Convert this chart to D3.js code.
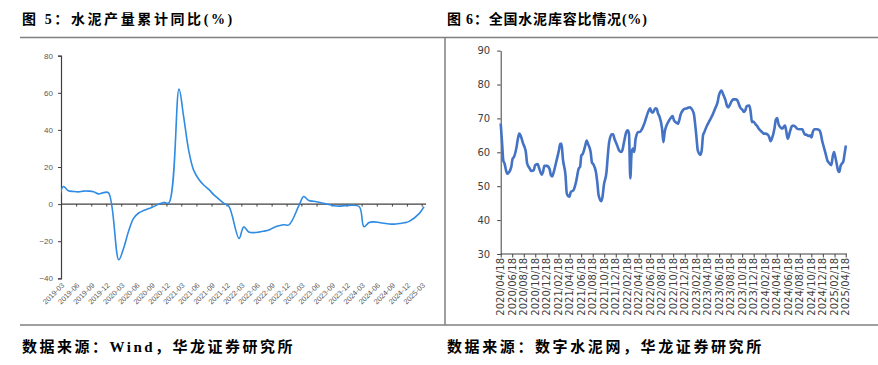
<!DOCTYPE html>
<html><head><meta charset="utf-8">
<script src="https://cdn.jsdelivr.net/npm/d3@7"></script>
<style>
html,body{margin:0;padding:0;background:#fff;}
svg{display:block;}
</style></head><body>
<svg id="c" width="878" height="365"></svg>
<script>
// ---------- DATA ----------
const title5 = "图 5：水泥产量累计同比(%)";
const title6 = "图 6：全国水泥库容比情况(%)";
const source5 = "数据来源：Wind，华龙证券研究所";
const source6 = "数据来源：数字水泥网，华龙证券研究所";

// Figure 5: cement output cumulative YoY (%), monthly (no January releases)
const outputMonths = ["2019-02","2019-03","2019-04","2019-05","2019-06","2019-07","2019-08","2019-09","2019-10","2019-11","2019-12",
  "2020-02","2020-03","2020-04","2020-05","2020-06","2020-07","2020-08","2020-09","2020-10","2020-11","2020-12",
  "2021-02","2021-03","2021-04","2021-05","2021-06","2021-07","2021-08","2021-09","2021-10","2021-11","2021-12",
  "2022-02","2022-03","2022-04","2022-05","2022-06","2022-07","2022-08","2022-09","2022-10","2022-11","2022-12",
  "2023-02","2023-03","2023-04","2023-05","2023-06","2023-07","2023-08","2023-09","2023-10","2023-11","2023-12",
  "2024-02","2024-03","2024-04","2024-05","2024-06","2024-07","2024-08","2024-09","2024-10","2024-11","2024-12",
  "2025-02","2025-03"];
const outputYoY = [-0.3,9.5,7.2,6.8,6.6,7.0,7.0,6.7,5.5,6.2,6.1,
  -30.0,-23.9,-14.5,-7.7,-4.8,-3.5,-2.4,-1.3,0.0,0.9,0.6,
  62.0,47.3,29.0,18.3,13.4,10.3,7.9,5.0,2.7,0.4,-1.2,
  -18.5,-12.3,-15.0,-15.4,-15.1,-14.6,-14.0,-12.6,-11.7,-11.1,-11.2,
  -0.6,4.1,1.9,1.5,1.0,0.4,-0.2,-0.9,-1.1,-0.9,-0.7,
  -1.3,-12.2,-9.9,-9.6,-9.9,-10.3,-10.7,-10.8,-10.5,-10.1,-9.3,
  -5.0,-1.4];
const outputTicks = ["2019-03","2019-06","2019-09","2019-12","2020-03","2020-06","2020-09","2020-12",
  "2021-03","2021-06","2021-09","2021-12","2022-03","2022-06","2022-09","2022-12",
  "2023-03","2023-06","2023-09","2023-12","2024-03","2024-06","2024-09","2024-12","2025-03"];
const outputYTicks = [80,60,40,20,0,-20,-40];

// Figure 6: national cement storage ratio (%), weekly; week offset from 2020/04/18
const storageStart = "2020/04/18";
const storageWeek = [0,1,2,3,4,5,6,8,9,10,12,13,14,15,17,18,19,20,22,23,25,26,28,29,31,32,33,35,37,38,39,40,42,44,45,46,47,49,50,52,53,55,56,57,59,60,61,62,64,65,66,68,69,70,72,73,74,76,77,78,80,81,82,84,85,86,88,89,91,92,93,95,96,97,98,99,100,101,102,104,105,107,108,109,110,112,113,114,115,117,118,119,120,122,123,124,125,127,129,130,131,133,134,135,136,138,139,141,143,144,146,147,148,149,151,152,153,154,156,158,160,162,164,165,167,168,170,171,172,173,175,176,178,179,180,181,183,184,185,186,188,189,190,191,193,194,195,197,198,199,200,202,203,204,205,207,208,209,210,212,213,214,215,216,217,219,220,221,223,224,226,228,229,230,231,233,234,235,236,237,239,241,242,243,244,246,247,248,250,251,252,253,254,255,256,257,258,259,260,261];
const storageRatio = [68.5,63.0,57.5,56.6,54.7,53.7,54.0,55.7,58.1,58.6,61.6,64.0,65.5,65.0,62.5,61.6,60.1,56.7,55.2,54.5,54.7,56.2,56.5,55.4,53.4,54.2,56.0,56.0,55.0,53.2,52.9,54.0,57.2,60.5,62.5,62.5,58.1,53.2,47.8,46.9,48.3,48.8,49.8,51.3,55.2,55.7,59.1,59.5,62.1,63.5,62.5,60.1,57.0,56.5,54.2,51.3,47.4,45.6,46.9,50.3,54.2,59.1,63.0,65.3,65.3,64.0,62.1,61.0,60.1,60.6,62.5,66.0,66.5,65.5,52.3,60.0,61.1,60.1,64.0,66.0,66.0,67.0,67.9,68.9,70.2,72.4,73.0,71.9,71.7,73.0,72.8,71.4,70.6,67.0,63.0,66.0,67.5,69.2,70.4,70.7,69.4,68.7,68.4,69.4,71.1,72.5,72.8,73.0,73.3,73.0,71.4,68.4,64.5,60.6,59.3,60.6,65.0,66.0,67.9,69.4,70.9,72.8,74.8,76.8,78.2,77.3,75.3,73.8,73.2,73.8,75.3,75.6,75.6,75.3,74.3,73.3,72.4,71.9,72.4,73.6,73.8,71.9,68.9,69.1,68.1,67.7,67.0,66.2,65.8,65.5,65.5,65.2,64.5,63.3,64.0,67.0,69.6,70.1,68.4,67.2,67.0,67.5,67.9,66.0,64.0,66.5,67.6,67.9,67.5,67.0,66.8,66.8,66.0,65.2,65.2,64.8,65.0,64.4,66.0,66.8,66.8,66.5,65.5,63.5,62.0,59.1,57.6,57.0,56.2,58.6,60.1,58.6,56.7,54.7,54.2,56.0,56.7,57.2,59.5,62.0];
const storageTicks = ["2020/04/18","2020/06/18","2020/08/18","2020/10/18","2020/12/18","2021/02/18","2021/04/18","2021/06/18","2021/08/18","2021/10/18","2021/12/18",
  "2022/02/18","2022/04/18","2022/06/18","2022/08/18","2022/10/18","2022/12/18","2023/02/18","2023/04/18","2023/06/18","2023/08/18","2023/10/18","2023/12/18",
  "2024/02/18","2024/04/18","2024/06/18","2024/08/18","2024/10/18","2024/12/18","2025/02/18","2025/04/18"];
const storageYTicks = [30,40,50,60,70,80,90];

// ---------- DRAW ----------
const svg = d3.select("#c");
svg.append("rect").attr("width",878).attr("height",365).attr("fill","#fff");

const CJK = "'Liberation Serif','Noto Sans CJK SC',serif";
const frame = "#7f7f7f";

// titles
svg.append("text").attr("x",22).attr("y",24).text(title5)
  .attr("font-family",CJK).attr("font-weight","bold").attr("font-size",14).attr("letter-spacing","2.6px").attr("fill","#000");
svg.append("text").attr("x",447).attr("y",24).text(title6)
  .attr("font-family",CJK).attr("font-weight","bold").attr("font-size",14).attr("letter-spacing","0.8px").attr("fill","#000");
// sources
svg.append("text").attr("x",22).attr("y",352).text(source5)
  .attr("font-family",CJK).attr("font-weight","bold").attr("font-size",15).attr("letter-spacing","2.5px").attr("fill","#000");
svg.append("text").attr("x",447).attr("y",352).text(source6)
  .attr("font-family",CJK).attr("font-weight","bold").attr("font-size",15).attr("letter-spacing","2.6px").attr("fill","#000");
// frame lines
svg.append("line").attr("x1",20).attr("x2",878).attr("y1",37.5).attr("y2",37.5).attr("stroke",frame).attr("stroke-width",1.5);
svg.append("line").attr("x1",20).attr("x2",878).attr("y1",325).attr("y2",325).attr("stroke",frame).attr("stroke-width",1.5);
svg.append("line").attr("x1",445).attr("x2",445).attr("y1",37.5).attr("y2",325).attr("stroke",frame).attr("stroke-width",1.5);

// ---- Figure 5 ----
(function(){
  const pm = d3.timeParse("%Y-%m");
  const x = d3.scaleTime().domain([pm(outputTicks[0]), pm(outputTicks[outputTicks.length-1])]).range([61, 421.7]);
  const y = d3.scaleLinear().domain([-40, 80]).range([278.3, 55.7]);
  const g = svg.append("g");
  const axisCol = "#404040", txtCol = "#595959";
  const ya = g.append("g").attr("transform","translate(61,0)")
    .call(d3.axisLeft(y).tickValues(outputYTicks).tickSize(3).tickPadding(5).tickFormat(d3.format("d")));
  ya.select(".domain").attr("stroke",axisCol).attr("stroke-width",1.2);
  ya.selectAll(".tick line").attr("stroke",axisCol);
  ya.selectAll("text").attr("font-family","'Liberation Sans',Arial,sans-serif").attr("font-size",8).attr("fill",txtCol);
  const xa = g.append("g").attr("transform",`translate(0,${y(0)})`)
    .call(d3.axisBottom(x).tickValues(outputTicks.map(pm)).tickSize(2.5).tickSizeOuter(0).tickFormat(""));
  xa.select(".domain").attr("stroke",axisCol).attr("stroke-width",1.2).attr("d",`M61,0H426`);
  xa.selectAll(".tick line").attr("stroke",axisCol);
  g.selectAll(".xl").data(outputTicks).join("text")
    .attr("transform",d=>`translate(${x(pm(d))+2},${284}) rotate(-45)`)
    .attr("text-anchor","end").attr("dy","0.35em")
    .attr("font-family","'Liberation Sans',Arial,sans-serif").attr("font-size",7.3).attr("fill",txtCol)
    .text(d=>d);
  g.append("clipPath").attr("id","clip5").append("rect").attr("x",61).attr("y",40).attr("width",370).attr("height",250);
  const pts = outputMonths.map((m,i)=>({d:d3.timeDay.offset(pm(m),14), v:outputYoY[i]}));
  g.append("path").datum(pts).attr("clip-path","url(#clip5)")
    .attr("d", d3.line().x(p=>x(p.d)).y(p=>y(p.v)).curve(d3.curveCatmullRom.alpha(0.5)))
    .attr("fill","none").attr("stroke","#2f8be3").attr("stroke-width",1.6).attr("stroke-linejoin","round");
})();

// ---- Figure 6 ----
(function(){
  const pd = d3.timeParse("%Y/%m/%d");
  const t0 = pd(storageStart);
  const x = d3.scaleTime().domain([pd(storageTicks[0]), pd(storageTicks[storageTicks.length-1])]).range([500.7, 845.7]);
  const y = d3.scaleLinear().domain([30, 90]).range([254, 50.6]);
  const g = svg.append("g");
  const axisCol = "#404040", txtCol = "#404040";
  const font = "'DejaVu Sans',Verdana,sans-serif";
  const ya = g.append("g").attr("transform","translate(500.7,0)")
    .call(d3.axisLeft(y).tickValues(storageYTicks).tickSize(3.5).tickPadding(7).tickSizeOuter(0));
  ya.select(".domain").attr("stroke",axisCol).attr("stroke-width",1);
  ya.selectAll(".tick line").attr("stroke",axisCol);
  ya.selectAll("text").attr("font-family",font).attr("font-size",10).attr("fill",txtCol);
  const xa = g.append("g").attr("transform","translate(0,254)")
    .call(d3.axisBottom(x).tickValues(storageTicks.map(pd)).tickSize(3.5).tickSizeOuter(0).tickFormat(""));
  xa.select(".domain").attr("stroke",axisCol).attr("stroke-width",1).attr("d","M500.7,0H847");
  xa.selectAll(".tick line").attr("stroke",axisCol);
  g.selectAll(".xl").data(storageTicks).join("text")
    .attr("transform",d=>`translate(${x(pd(d))},258) rotate(-90)`)
    .attr("text-anchor","end").attr("dy","0.36em")
    .attr("font-family",font).attr("font-size",10).attr("fill",txtCol)
    .text(d=>d);
  const pts = storageWeek.map((w,i)=>({d:d3.timeDay.offset(t0, 7*w), v:storageRatio[i]}));
  g.append("path").datum(pts)
    .attr("d", d3.line().x(p=>x(p.d)).y(p=>y(p.v)).curve(d3.curveMonotoneX))
    .attr("fill","none").attr("stroke","#4472c4").attr("stroke-width",2.6).attr("stroke-linejoin","round");
})();
</script>
</body></html>
